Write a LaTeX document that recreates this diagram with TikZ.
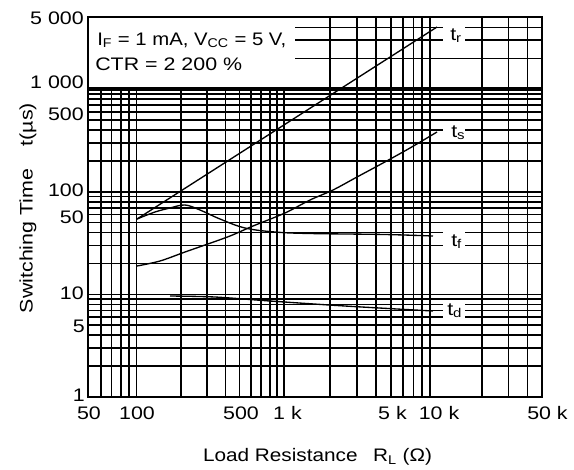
\documentclass[tikz,border=0pt]{standalone}
\usepackage{graphicx}
\usepackage{fontspec}
\setmainfont{Liberation Sans}[FakeStretch=1.18]
\newcommand{\lsub}[1]{\textsubscript{#1}}
\begin{document}
\begin{tikzpicture}[x=0.75pt,y=-0.75pt,
  gridl/.style={line width=1.2pt},
  heavy/.style={line width=2.6pt},
  curve/.style={line width=1.0pt},
  lbl/.style={inner sep=0pt, font=\fontsize{13.6}{16}\selectfont},
  gap/.style={fill=white}]
\useasboundingbox[fill=white] (0,0) rectangle (574,469);
% vertical grid lines (piecewise log scale of the scanned chart)
\foreach \m in {60,70,80,90}{
  \pgfmathsetmacro\xx{88+48.5*ln(\m/50)/ln(2)}
  \draw[gridl] (\xx,17) -- (\xx,397);}
\foreach \m in {1,...,9}{
  \pgfmathsetmacro\xx{136.5+147.5*ln(\m)/ln(10)}
  \draw[gridl] (\xx,17) -- (\xx,397);}
\foreach \m in {1,...,9}{
  \pgfmathsetmacro\xx{284+153*ln(\m)/ln(10)}
  \draw[gridl] (\xx,17) -- (\xx,397);}
\foreach \m in {2,3,4}{
  \pgfmathsetmacro\xx{437+105*ln(\m)/ln(5)}
  \draw[gridl] (\xx,17) -- (\xx,397);}
% horizontal grid lines
\foreach \k in {0,1,2}{
  \foreach \m in {1,...,9}{
    \pgfmathsetmacro\yy{397-102.6*(\k+ln(\m)/ln(10))}
    \draw[gridl] (88,\yy) -- (542,\yy);}}
\foreach \m in {2,3,4}{
  \pgfmathsetmacro\yy{397-102.6*(3+ln(\m)/ln(10))}
  \draw[gridl] (88,\yy) -- (542,\yy);}
% cleared areas: legend box and label gaps
\fill[gap] (89,18) rectangle (295,88);
\fill[gap] (443,24) rectangle (465,45);
\fill[gap] (443,123) rectangle (465,142);
\fill[gap] (443,228) rectangle (465,252);
\fill[gap] (443,301) rectangle (465,321);
% frame and 1000 line
\draw[gridl] (88,17) rectangle (542,397);
\draw[heavy] (88,89.2) -- (542,89.2);
% curves
\coordinate (tra) at (137,219);
\coordinate (trb) at (437,27);
\draw[curve] (tra) -- (trb);
\draw[curve] plot[smooth] coordinates {(137,266) (160,261) (185,252) (205,245) (230,236) (253,226) (285,213) (310,200) (333,190) (357,177) (383,163) (410,148) (437,132)};
\draw[curve] plot[smooth, tension=0.6] coordinates {(137,219) (155,212) (170,208) (185,205) (200,210) (220,219) (245,228) (275,232) (310,233.5) (385,234.5) (433,236)};
\draw[curve] plot[smooth] coordinates {(170,296) (215,297) (270,301) (345,306) (433,311)};
% curve labels
\node[lbl, anchor=base west] (ltr) at (450,40) {t\lsub{r}};
\node[lbl, anchor=base west] (lts) at (451,137) {t\lsub{s}};
\node[lbl, anchor=base west] (ltf) at (451,246) {t\lsub{f}};
\node[lbl, anchor=base west] (ltd) at (447,315) {t\lsub{d}};
% legend
\node[lbl, anchor=base west] (cond1) at (97,45) {\scalebox{0.95}[1]{I\lsub{F} = 1 mA, V\lsub{CC} = 5 V,}};
\node[lbl, anchor=base west] (cond2) at (95,70) {CTR = 2 200 \%};
% y tick labels
\node[lbl, anchor=base east] (y5000) at (84,24) {5 000};
\node[lbl, anchor=base east] (y1000) at (84,88) {1 000};
\node[lbl, anchor=base east] (y500) at (84,120) {500};
\node[lbl, anchor=base east] (y100) at (84,196) {100};
\node[lbl, anchor=base east] (y50) at (84,223) {50};
\node[lbl, anchor=base east] (y10) at (84,299) {10};
\node[lbl, anchor=base east] (y5) at (85,332) {5};
\node[lbl, anchor=base east] (y1) at (85,401) {1};
% x tick labels
\node[lbl, anchor=base] (x50) at (89,419) {50};
\node[lbl, anchor=base] (x100) at (137,419) {100};
\node[lbl, anchor=base] (x500) at (241,419) {500};
\node[lbl, anchor=base] (x1k) at (287.5,419) {1 k};
\node[lbl, anchor=base] (x5k) at (392.5,419) {5 k};
\node[lbl, anchor=base] (x10k) at (439,419) {10 k};
\node[lbl, anchor=base west] (x50k) at (527,419) {50 k};
% axis titles
\node[lbl, anchor=base] (xtitle) at (317.5,461.5) {\scalebox{0.97}[1]{Load Resistance\hspace{12pt}R\lsub{L} (Ω)}};
\node[lbl, anchor=base, rotate=90] (ytitle) at (32.5,208) {Switching Time\hspace{17pt}t(µs)};
\end{tikzpicture}
\end{document}
